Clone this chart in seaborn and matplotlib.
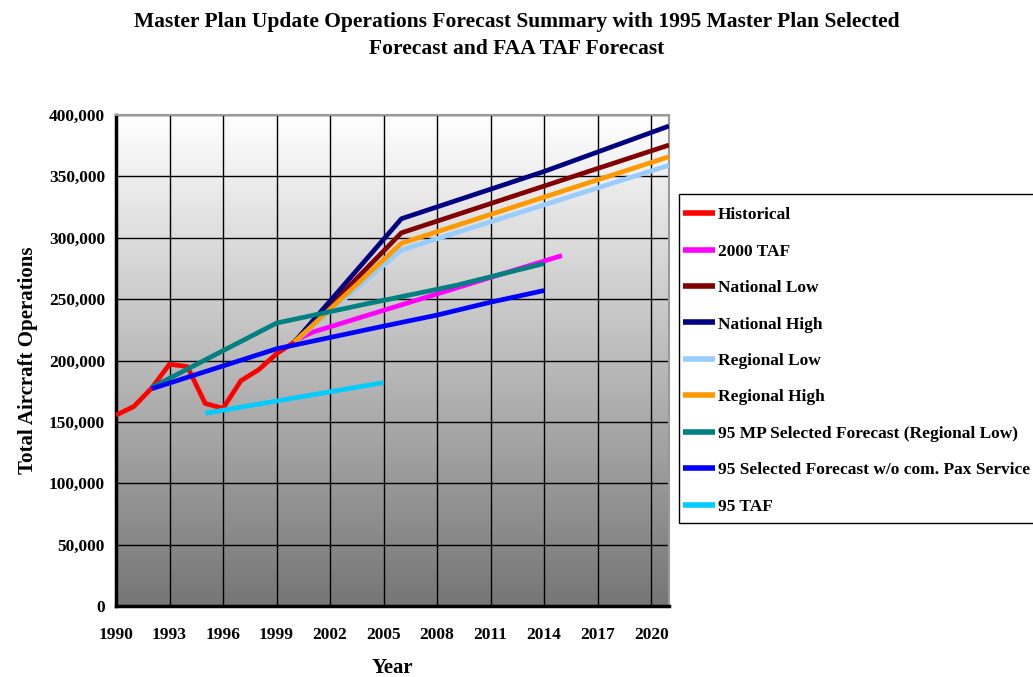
import numpy as np
import pandas as pd
import matplotlib
matplotlib.use("Agg")
import matplotlib.pyplot as plt
import seaborn as sns
from matplotlib.ticker import FuncFormatter
from matplotlib.patches import Rectangle

# ---- data ----
hist_years = [1990, 1991, 1992, 1993, 1994, 1995, 1996, 1997, 1998, 1999, 2000]
hist_vals = [155500, 162500, 177500, 197000, 195000, 165000, 161000, 183500, 192500, 205500, 215000]

taf2000_years = [2000, 2001, 2015]
taf2000_vals = [216000, 223000, 285500]

nat_low_years = [2000, 2006, 2021]
nat_low_vals = [215000, 304000, 375500]

nat_high_years = [2000, 2006, 2014, 2021]
nat_high_vals = [215000, 315500, 354000, 391000]

reg_low_years = [2000, 2006, 2021]
reg_low_vals = [215000, 290000, 359000]

reg_high_years = [2000, 2006, 2021]
reg_high_vals = [215000, 295500, 366000]

mp95_years = [1992, 1999, 2004, 2009, 2014]
mp95_vals = [178000, 230500, 246000, 261000, 279000]

sel95_years = [1992, 1999, 2005, 2008, 2011, 2014]
sel95_vals = [177000, 209500, 228000, 237000, 247500, 257000]

taf95_years = [1995, 2005]
taf95_vals = [157000, 182000]

series_names = ["Historical", "2000 TAF", "National Low", "National High",
                "Regional Low", "Regional High",
                "95 MP Selected Forecast (Regional Low)",
                "95 Selected Forecast w/o com. Pax Service", "95 TAF"]
series_colors = ["#FF0000", "#FF00FF", "#800000", "#000080",
                 "#99CCFF", "#FF9900", "#008080", "#0000FF", "#00CCFF"]

x_ticks = [1990, 1993, 1996, 1999, 2002, 2005, 2008, 2011, 2014, 2017, 2020]
y_ticks = [0, 50000, 100000, 150000, 200000, 250000, 300000, 350000, 400000]

title = "Master Plan Update Operations Forecast Summary with 1995 Master Plan Selected\nForecast and FAA TAF Forecast"

# ---- build long frame ----
all_years = [hist_years, taf2000_years, nat_low_years, nat_high_years, reg_low_years,
             reg_high_years, mp95_years, sel95_years, taf95_years]
all_vals = [hist_vals, taf2000_vals, nat_low_vals, nat_high_vals, reg_low_vals,
            reg_high_vals, mp95_vals, sel95_vals, taf95_vals]
rows = []
for name, ys, vs in zip(series_names, all_years, all_vals):
    for y, v in zip(ys, vs):
        rows.append({"Year": y, "Ops": v, "Series": name})
df = pd.DataFrame(rows)

sns.set_style("white")
plt.rcParams["font.family"] = ["Liberation Serif", "DejaVu Serif"]
plt.rcParams["font.weight"] = "bold"
plt.rcParams["text.color"] = "black"
plt.rcParams["axes.labelcolor"] = "black"
plt.rcParams["xtick.color"] = "black"
plt.rcParams["ytick.color"] = "black"

W, H = 1033, 677
fig = plt.figure(figsize=(W / 100, H / 100), dpi=100)
ax = fig.add_axes([116 / W, 1 - 606 / H, (669 - 116) / W, (606 - 115) / H])

# gradient background: white at top, grey at bottom
grad = np.linspace(0, 1, 256).reshape(-1, 1)
cmap = matplotlib.colors.LinearSegmentedColormap.from_list("g", ["#FFFFFF", "#767676"])
ax.imshow(grad, aspect="auto", cmap=cmap, extent=[1990, 2021, 0, 400000],
          origin="upper", zorder=0)

palette = dict(zip(series_names, series_colors))
sns.lineplot(data=df, x="Year", y="Ops", hue="Series", hue_order=series_names,
             palette=palette, linewidth=3.4, ax=ax, sort=True, estimator=None,
             solid_capstyle="butt", zorder=3)

ax.set_xlim(1990, 2021)
ax.set_ylim(0, 400000)
ax.set_xticks(x_ticks)
ax.set_yticks(y_ticks)
ax.yaxis.set_major_formatter(FuncFormatter(lambda v, p: f"{int(v):,}"))
ax.grid(True, color="black", linewidth=1.0, zorder=1)
for gl in ax.get_xgridlines() + ax.get_ygridlines():
    gl.set_zorder(1)

for lab in ax.get_xticklabels() + ax.get_yticklabels():
    lab.set_fontweight("bold")
    lab.set_fontsize(12.5)
    lab.set_color("black")
ax.tick_params(axis="x", length=0, pad=15)
ax.tick_params(axis="y", length=0, pad=8)

ax.spines["left"].set_linewidth(2.5)
ax.spines["left"].set_color("black")
ax.spines["bottom"].set_linewidth(2.5)
ax.spines["bottom"].set_color("black")
ax.spines["top"].set_color("#999999")
ax.spines["right"].set_color("#999999")
ax.spines["top"].set_linewidth(1.5)
ax.spines["right"].set_linewidth(1.5)

ax.set_xlabel("Year", fontsize=15, fontweight="bold", labelpad=11, color="black")
ax.set_ylabel("Total Aircraft Operations", fontsize=15, fontweight="bold", labelpad=8,
              color="black")

fig.text(0.5, 1 - 35.5 / H, title, ha="center", va="center", fontsize=15.5,
         fontweight="bold", linespacing=1.5, color="black")

handles, labels = ax.get_legend_handles_labels()
if ax.legend_:
    ax.legend_.remove()

# legend frame (extends past the right edge like the reference)
fig.patches.append(Rectangle((679 / W, 1 - 523 / H), (1060 - 679) / W, (523 - 194) / H,
                             transform=fig.transFigure, facecolor="white",
                             edgecolor="black", linewidth=1.0, zorder=0))
leg = fig.legend(handles, labels, loc="upper left",
                 bbox_to_anchor=(683 / W, 1 - 207 / H),
                 frameon=False,
                 prop={"family": "Liberation Serif", "weight": "bold", "size": 12.5},
                 handlelength=1.85, handletextpad=0.15, labelspacing=1.17,
                 borderpad=0, borderaxespad=0)
for t in leg.get_texts():
    t.set_color("black")
for line in leg.get_lines():
    line.set_linewidth(4)

fig.savefig("out.png", dpi=100)
